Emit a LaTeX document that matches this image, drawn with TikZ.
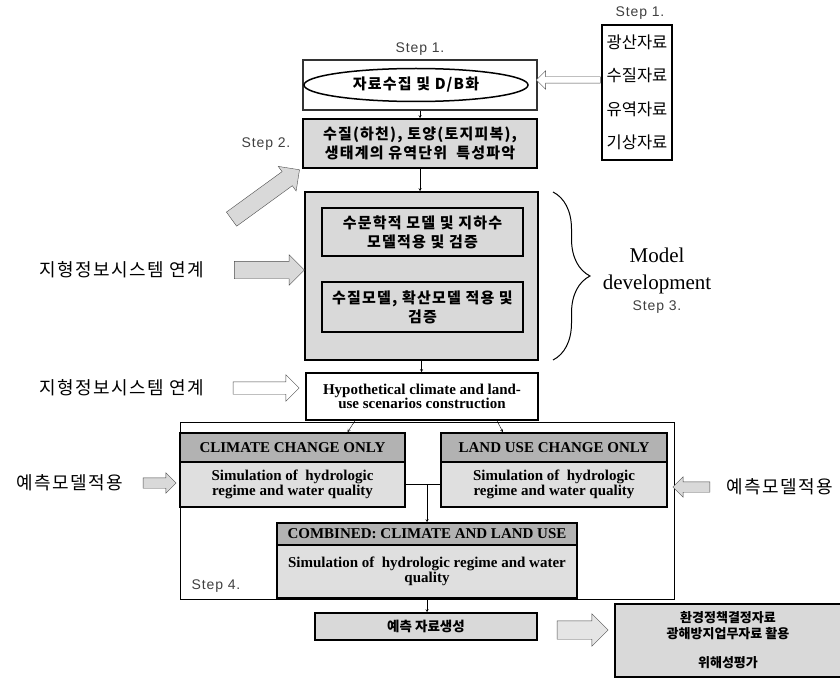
\documentclass[tikz,border=0pt]{standalone}
\usepackage{fontspec}
\setmainfont{Liberation Serif}
\newfontfamily\kr{Noto Sans CJK KR}
\newfontfamily\krbox{Noto Sans CJK KR}[LetterSpace=8]
\newfontfamily\krwide{Noto Sans CJK KR}[LetterSpace=8]
\newfontfamily\stepf{Liberation Sans}[LetterSpace=6]
\usetikzlibrary{positioning, shapes.geometric, shapes.arrows, decorations.pathreplacing, arrows.meta}

\begin{document}
\begin{tikzpicture}[
    x=1pt, y=-1pt,
    >=stealth,
    font=\kr\fontsize{14}{18}\selectfont,
    block/.style={draw=black, line width=1.5pt, align=center, inner sep=0pt, font=\krbox\bfseries\fontsize{15}{19}\selectfont},
    shaded/.style={block, fill=gray!30},
    head/.style={block, fill=gray!60, font=\bfseries\fontsize{15}{15}\selectfont},
    sim/.style={block, fill=gray!25, font=\bfseries\fontsize{15}{13}\selectfont},
    steplabel/.style={font=\stepf\fontsize{14}{14}\selectfont, text=black!75},
    side/.style={font=\krwide\fontsize{18}{18}\selectfont},
    arrow/.style={->, thin},
    fatarrow/.style={single arrow, draw=black!70, fill=gray!30, inner xsep=0pt, inner ysep=8.5pt, single arrow head extend=6.5pt},
    hollow/.style={fatarrow, fill=white}
  ]
    \useasboundingbox (0,0) rectangle (840,679);

    % data sources
    \node[draw, line width=1.2pt, minimum width=70pt, minimum height=135pt, align=center,
          font=\kr\fontsize{16.5}{33.5}\selectfont] (data) at (637,92.5) {광산자료\\수질자료\\유역자료\\기상자료};
    \node[steplabel] (stepA) at (640,13) {Step 1.};

    % step 1 / step 2
    \node[block, fill=white, draw=black!80, line width=1.3pt, minimum width=234pt, minimum height=50pt] (collect) at (420,85) {};
    \node[block, ellipse, line width=1.5pt, minimum width=224pt, minimum height=33pt] (dbEll) at (416,85) {자료수집 및 D/B화};
    \node[steplabel] (stepB) at (420,49) {Step 1.};
    \node[shaded, minimum width=234pt, minimum height=49pt] (step2) at (420,143.5) {수질(하천), 토양(토지피복),\\생태계의 유역단위~~특성파악};
    \node[steplabel] (stepC) at (266,144) {Step 2.};

    % step 3: model development
    \node[shaded, minimum width=233pt, minimum height=168pt] (model) at (421.5,276) {};
    \node[shaded, minimum width=201pt, minimum height=48pt] (hydro) at (422.5,232) {수문학적 모델 및 지하수\\모델적용 및 검증};
    \node[shaded, minimum width=201pt, minimum height=50pt] (quality) at (422.5,307) {수질모델, 확산모델 적용 및\\검증};
    \draw[decorate, decoration={brace, amplitude=37pt}, line width=1pt] (553,192) -- (553,360);
    \node[align=center, font=\fontsize{21}{27}\selectfont] (mdev) at (657,271) {Model\\development};
    \node[steplabel, below=0pt of mdev] (stepD) {Step 3.};

    % scenarios
    \node[block, fill=white, font=\bfseries\fontsize{15}{14}\selectfont, minimum width=232pt, minimum height=47pt] (hyp) at (422,396.5) {Hypothetical climate and land-\\use scenarios construction};
    \node[draw, thin, minimum width=494pt, minimum height=177pt, inner sep=0pt] (scen) at (427,510.5) {};
    \node[head, minimum width=225pt, minimum height=29pt] (climHead) at (292.5,447.5) {CLIMATE CHANGE ONLY};
    \node[sim, minimum width=225pt, minimum height=45pt] (climBody) at (292.5,484.5) {Simulation of~ hydrologic\\regime and water quality};
    \node[head, minimum width=226pt, minimum height=29pt] (landHead) at (554,447.5) {LAND USE CHANGE ONLY};
    \node[sim, minimum width=226pt, minimum height=45pt] (landBody) at (554,484.5) {Simulation of~ hydrologic\\regime and water quality};
    \node[head, minimum width=300pt, minimum height=22pt] (combHead) at (427,534) {COMBINED: CLIMATE AND LAND USE};
    \node[sim, minimum width=300pt, minimum height=53pt] (combBody) at (427,571.5) {Simulation of~ hydrologic regime and water\\quality};
    \node[steplabel] (stepE) at (216,586) {Step 4.};

    % outputs
    \node[shaded, minimum width=222pt, minimum height=27pt, font=\kr\bfseries\fontsize{13.5}{16}\selectfont] (predict) at (426,626.5) {예측 자료생성};
    \node[shaded, minimum width=226pt, minimum height=73pt, font=\kr\bfseries\fontsize{13}{16}\selectfont] (policy) at (728,640.5) {환경정책결정자료\\광해방지업무자료 활용\\[13pt]위해성평가};

    % side labels
    \node[side] (gisA) at (122,270) {지형정보시스템 연계};
    \node[side] (gisB) at (122,388) {지형정보시스템 연계};
    \node[side] (predL) at (70,483) {예측모델적용};
    \node[side] (predR) at (780,487) {예측모델적용};

    % block arrows
    \node[fatarrow, minimum height=84pt, rotate=36] (arrDiag) at (262,197) {};
    \node[fatarrow, minimum height=70pt] (arrGisA) at (265,270) {};
    \node[hollow, minimum height=66pt, inner ysep=6pt, single arrow head extend=7pt] (arrGisB) at (263,388) {};
    \node[hollow, minimum height=64pt, inner ysep=3pt, single arrow head extend=6pt, shape border rotate=180] (arrData) at (570,80) {};
    \node[fatarrow, minimum height=33pt, inner ysep=5pt, single arrow head extend=5pt] (arrPredL) at (157,483) {};
    \node[fatarrow, minimum height=37pt, inner ysep=5pt, single arrow head extend=5pt, shape border rotate=180] (arrPredR) at (694,487) {};
    \node[fatarrow, minimum height=51pt, inner ysep=9pt, single arrow head extend=7pt, fill=gray!20] (arrOut) at (578,630) {};

    % connectors
    \draw[arrow] (collect) -- (step2);
    \draw[arrow] (step2.south) -- (step2.south |- model.north);
    \draw[arrow] (model.south) -- (model.south |- hyp.north);
    \draw[arrow] ([xshift=-67pt]hyp.south) -- ([xshift=55pt]climHead.north);
    \draw[arrow] ([xshift=75pt]hyp.south) -- ([xshift=-51pt]landHead.north);
    \draw (climBody.east) -- (landBody.west);
    \draw[arrow] (combHead.north |- climBody.east) -- (combHead.north);
    \draw[arrow] (combBody.south) -- (combBody.south |- predict.north);
\end{tikzpicture}
\end{document}
